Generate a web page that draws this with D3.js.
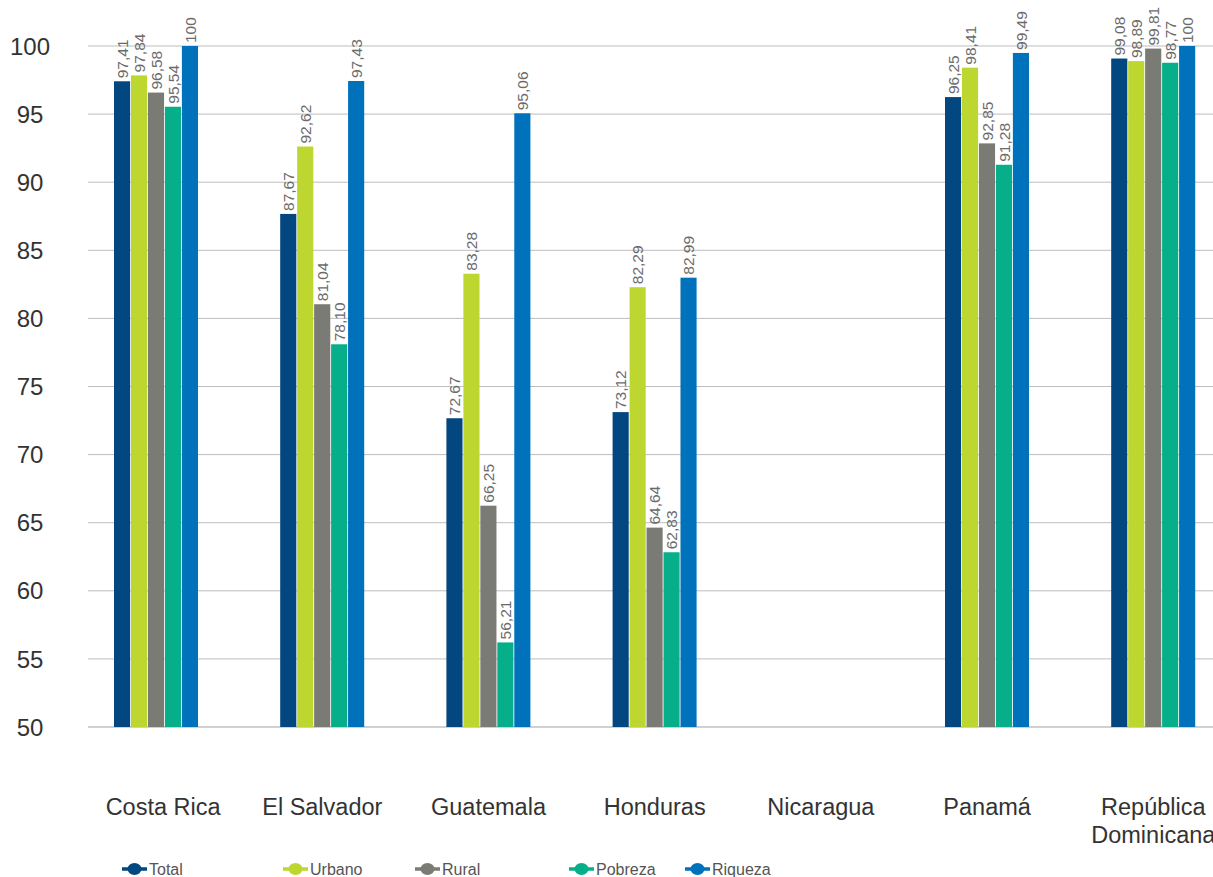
<!DOCTYPE html>
<html><head><meta charset="utf-8">
<script src="https://cdn.jsdelivr.net/npm/d3@7"></script>
<style>
html,body{margin:0;padding:0;background:#fff;}
svg{display:block;font-family:"Liberation Sans",Arial,sans-serif;}
</style></head>
<body>
<svg id="chart" width="1213" height="877"></svg>
<script>
const categories = ["Costa Rica","El Salvador","Guatemala","Honduras","Nicaragua","Panamá","República Dominicana"];
const seriesNames = ["Total","Urbano","Rural","Pobreza","Riqueza"];
const colors = ["#02477F","#BED630","#7A7B74","#06AF8A","#0071BB"];
const total   = [97.41, 87.67, 72.67, 73.12, null, 96.25, 99.08];
const urbano  = [97.84, 92.62, 83.28, 82.29, null, 98.41, 98.89];
const rural   = [96.58, 81.04, 66.25, 64.64, null, 92.85, 99.81];
const pobreza = [95.54, 78.10, 56.21, 62.83, null, 91.28, 98.77];
const riqueza = [100, 97.43, 95.06, 82.99, null, 99.49, 100];
const yTicks = [50,55,60,65,70,75,80,85,90,95,100];

const series = [total, urbano, rural, pobreza, riqueza];
const svg = d3.select("#chart");

const y = d3.scaleLinear().domain([50,100]).range([727,46]);
const x = d3.scaleBand().domain(categories).range([73, 73 + 7*166.2]).padding(0);
const xs = d3.scaleBand().domain(seriesNames).range([41, 125]).paddingInner(0.05);

// gridlines
svg.append("g").selectAll("line").data(yTicks.filter(t=>t>50)).join("line")
  .attr("x1",88).attr("x2",1213)
  .attr("y1",d=>y(d)).attr("y2",d=>y(d))
  .attr("stroke","#BDBDBD").attr("stroke-width",1);
svg.append("line").attr("x1",88).attr("x2",1213).attr("y1",y(50)).attr("y2",y(50))
  .attr("stroke","#D0D0D0").attr("stroke-width",2);

// y tick labels
svg.append("g").selectAll("text").data(yTicks).join("text")
  .attr("x",30).attr("y",d=>y(d)).attr("dy","0.36em")
  .attr("text-anchor","middle").attr("font-size",24).attr("fill","#333")
  .text(d=>d);

const fmt = v => v===100 ? "100" : v.toFixed(2).replace(".",",");

// bars
const data = [];
categories.forEach((c,i)=>series.forEach((s,j)=>{ if(s[i]!=null) data.push({c, s:seriesNames[j], v:s[i], col:colors[j]}); }));

const g = svg.append("g");
g.selectAll("rect").data(data).join("rect")
  .attr("x",d=>x(d.c)+xs(d.s)).attr("width",xs.bandwidth())
  .attr("y",d=>y(d.v)).attr("height",d=>y(50)-y(d.v))
  .attr("fill",d=>d.col);

g.selectAll("text").data(data).join("text")
  .attr("transform",d=>`translate(${x(d.c)+xs(d.s)+xs.bandwidth()/2},${y(d.v)-3}) rotate(-90)`)
  .attr("dy","0.36em").attr("text-anchor","start")
  .attr("font-size",15.5).attr("fill","#6b6b6b")
  .text(d=>fmt(d.v));

// category labels
const cl = svg.append("g").selectAll("text").data(categories).join("text")
  .attr("y",815)
  .attr("text-anchor","middle").attr("font-size",23.5).attr("fill","#333");
cl.each(function(d,i){
  const cx = x(d)+x.bandwidth()/2 + (i===0 ? 7 : 0);
  const parts = d==="República Dominicana" ? ["República","Dominicana"] : [d];
  const t = d3.select(this);
  parts.forEach((p,k)=>t.append("tspan").attr("x",cx).attr("dy",k?28:0).text(p));
});

// legend
const legX = [122, 283, 415, 569, 685];
const lg = svg.append("g").selectAll("g").data(seriesNames).join("g")
  .attr("transform",(d,i)=>`translate(${legX[i]},869)`);
lg.append("line").attr("x1",0).attr("x2",25).attr("stroke",(d,i)=>colors[i]).attr("stroke-width",3.5);
lg.append("ellipse").attr("cx",12.5).attr("rx",7).attr("ry",6).attr("fill",(d,i)=>colors[i]);
lg.append("text").attr("x",27).attr("dy","0.36em").attr("font-size",16).attr("fill","#555").text(d=>d);
</script>
</body></html>
